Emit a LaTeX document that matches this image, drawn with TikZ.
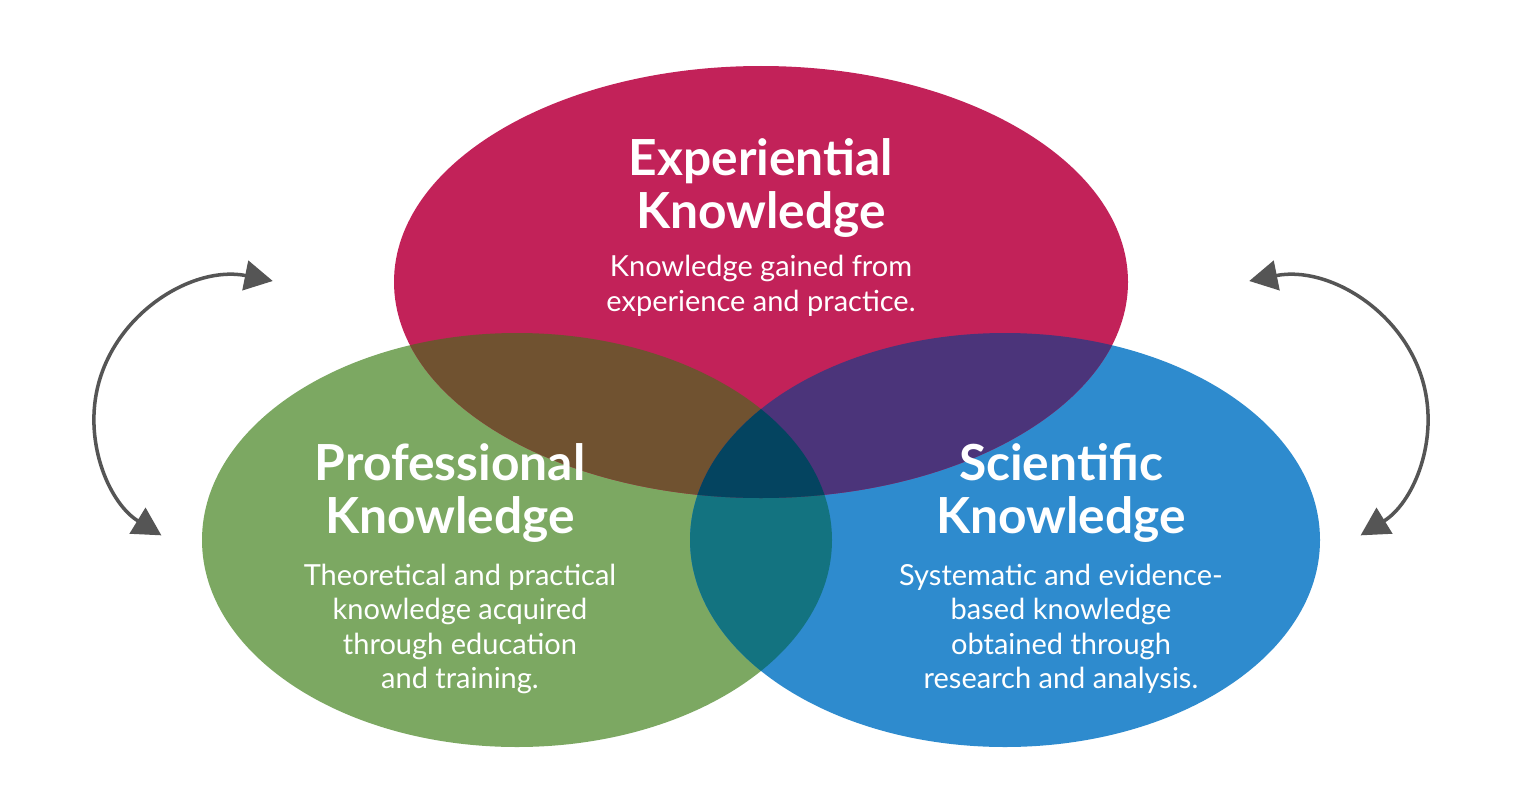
\documentclass[tikz,border=0pt]{standalone}
\usepackage{fontspec}
\setmainfont{Lato}
\usetikzlibrary{arrows.meta}

\definecolor{expred}{RGB}{194,34,89}
\definecolor{profgreen}{RGB}{124,168,98}
\definecolor{sciblue}{RGB}{46,139,206}
\definecolor{rgmix}{RGB}{112,82,48}
\definecolor{rbmix}{RGB}{75,52,122}
\definecolor{gbmix}{RGB}{19,115,128}
\definecolor{allmix}{RGB}{4,68,96}
\definecolor{arrowgrey}{RGB}{85,85,85}

\begin{document}
\begin{tikzpicture}[x=0.02cm,y=0.02cm,
  expsize/.style={x radius=367,y radius=216},
  sidesize/.style={x radius=315,y radius=207},
  title/.style={text=white,font=\fontsize{28.3}{30.5}\selectfont\bfseries,align=center},
  blurb/.style={text=white,font=\fontsize{16.5}{19.6}\selectfont,align=center},
  twoway/.style={{Triangle[length=16pt,width=17pt]}-{Triangle[length=16pt,width=17pt]},line width=2pt,draw=arrowgrey,fill=none}]
\useasboundingbox (0,0) rectangle (1517,796);
\fill[white] (0,0) rectangle (1517,796);
\coordinate (expc) at (761,514);
\coordinate (profc) at (517,256);
\coordinate (scic) at (1005,256);
% the three sets
\fill[profgreen] (profc) ellipse[sidesize];
\fill[sciblue] (scic) ellipse[sidesize];
\fill[expred] (expc) ellipse[expsize];
% overlaps
\begin{scope}
  \clip (profc) ellipse[sidesize];
  \fill[gbmix] (scic) ellipse[sidesize];
\end{scope}
\begin{scope}
  \clip (expc) ellipse[expsize];
  \fill[rgmix] (profc) ellipse[sidesize];
  \fill[rbmix] (scic) ellipse[sidesize];
  \clip (profc) ellipse[sidesize];
  \fill[allmix] (scic) ellipse[sidesize];
\end{scope}
% labels
\node[title] (exptitle) at (761,608) {Experiential\\Knowledge};
\node[blurb] (expnote) at (761,510) {Knowledge gained from\\experience and practice.};
\node[title] (proftitle) at (450,303) {Professional\\Knowledge};
\node[blurb] (profnote) at (460,167) {Theoretical and practical\\knowledge acquired\\through education\\and training.};
\node[title] (scititle) at (1061,303) {Scientific\\Knowledge};
\node[blurb] (scinote) at (1061,167) {Systematic and evidence-\\based knowledge\\obtained through\\research and analysis.};
% side arrows
\coordinate (lefttop) at (272.8,515);
\coordinate (righttop) at (1249.2,515);
\draw[twoway] (lefttop) arc[start angle=78,end angle=237,x radius=148,y radius=140];
\draw[twoway] (righttop) arc[start angle=102,end angle=-57,x radius=148,y radius=140];
\end{tikzpicture}
\end{document}
